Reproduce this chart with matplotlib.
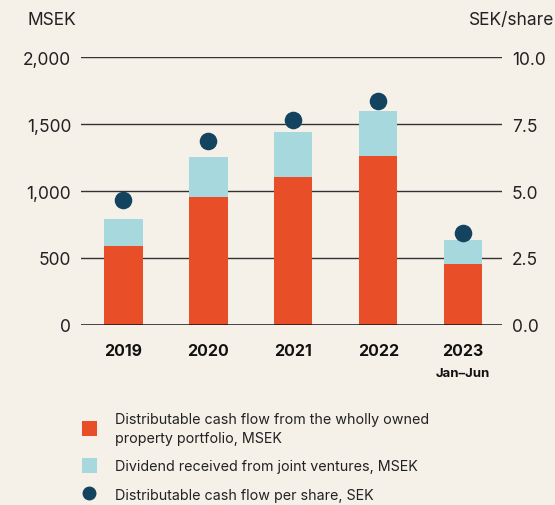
import matplotlib.pyplot as plt
from matplotlib.patches import Patch
from matplotlib.lines import Line2D

plt.rcParams['font.family'] = ['Inter', 'DejaVu Sans']

# data
years = ['2019', '2020', '2021', '2022', '2023']
wholly_owned = [590, 955, 1105, 1260, 455]
joint_ventures = [200, 300, 335, 337, 180]
per_share = [4.66, 6.87, 7.65, 8.36, 3.43]

bg = '#f5f0e8'
red = '#e84f28'
blue = '#a7d8de'
navy = '#13435e'

fig = plt.figure(figsize=(5.55, 5.06), dpi=100, facecolor=bg)
ax = fig.add_axes([0.146, 0.356, 0.759, 0.529], facecolor=bg)

x = range(len(years))
ax.bar(x, wholly_owned, width=0.45, color=red, zorder=3)
ax.bar(x, joint_ventures, width=0.45, bottom=wholly_owned, color=blue, zorder=3)

ax2 = ax.twinx()
ax2.scatter(x, per_share, s=160, color=navy, zorder=4, linewidths=0)

ax.set_ylim(0, 2000)
ax2.set_ylim(0, 10)
ax.set_xlim(-0.5, 4.46)

ax.set_yticks([0, 500, 1000, 1500, 2000])
ax.set_yticklabels(['0', '500', '1,000', '1,500', '2,000'])
ax2.set_yticks([0, 2.5, 5, 7.5, 10])
ax2.set_yticklabels(['0.0', '2.5', '5.0', '7.5', '10.0'])

for v in [500, 1000, 1500, 2000]:
    ax.axhline(v, color='#333333', lw=1.0, zorder=1)
ax.axhline(0, color='#111111', lw=1.8, zorder=5)

for a in (ax, ax2):
    for s in a.spines.values():
        s.set_visible(False)
    a.tick_params(axis='y', length=0, labelsize=12.5, colors='#222222', pad=7)

ax.set_xticks(list(x))
ax.set_xticklabels(years, fontsize=11.5, fontweight='bold', color='#111111')
ax.tick_params(axis='x', length=0, pad=13)
ax.text(4, -0.18, 'Jan–Jun', transform=ax.get_xaxis_transform(),
        ha='center', va='center', fontsize=9.5, fontweight='bold', color='#111111')

fig.text(0.05, 0.96, 'MSEK', fontsize=12.5, color='#222222', va='center')
fig.text(0.998, 0.96, 'SEK/share', fontsize=12.5, color='#222222', va='center', ha='right')

handles = [
    Patch(facecolor=red, edgecolor='none'),
    Patch(facecolor=blue, edgecolor='none'),
    Line2D([], [], marker='o', color=navy, linestyle='none', markersize=9),
]
labels = [
    'Distributable cash flow from the wholly owned\nproperty portfolio, MSEK',
    'Dividend received from joint ventures, MSEK',
    'Distributable cash flow per share, SEK',
]
leg = fig.legend(handles, labels, loc='upper left', bbox_to_anchor=(0.125, 0.21),
                 frameon=False, fontsize=10.3, handlelength=1.0, handleheight=1.2,
                 handletextpad=1.3, labelspacing=0.95, labelcolor='#222222')
for t in leg.get_texts():
    t.set_linespacing(1.45)

fig.savefig('out.png', dpi=100, facecolor=bg)
